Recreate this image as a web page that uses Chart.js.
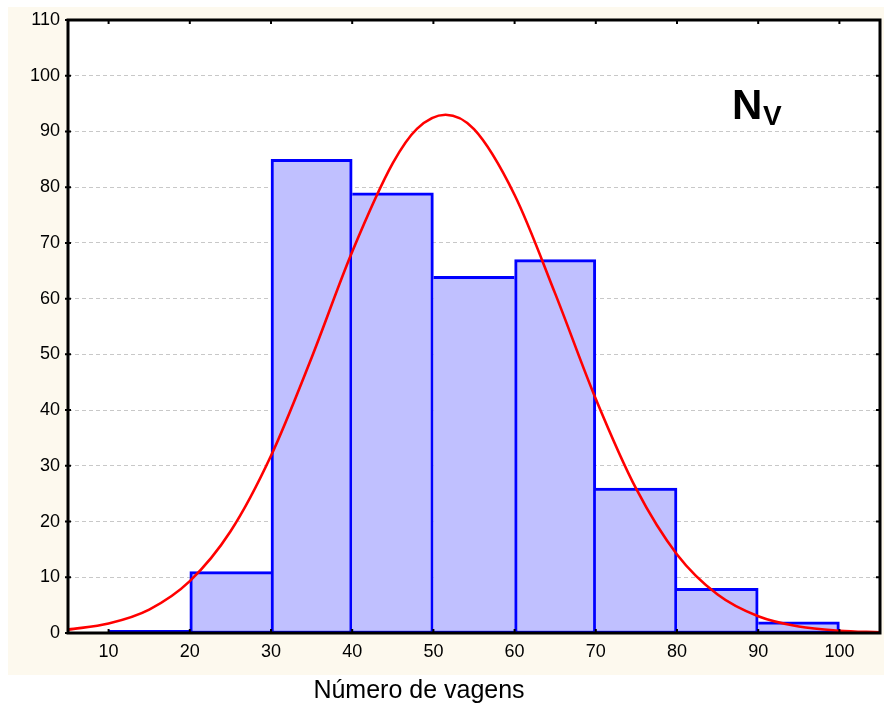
<!DOCTYPE html>
<html>
<head>
<meta charset="utf-8">
<script src="https://cdn.jsdelivr.net/npm/chart.js@4.4.0/dist/chart.umd.min.js"></script>
<style>
  html, body { margin: 0; padding: 0; background: #ffffff; }
  #wrap { width: 884px; height: 708px; }
</style>
</head>
<body>
<div id="wrap"><canvas id="hist"></canvas></div>
<script>
// histogramme : centres des classes et effectifs
const binCenters = [15, 25, 35, 45, 55, 65, 75, 85, 95];
const binCounts  = [0, 11, 85, 79, 64, 67, 26, 8, 2];

// courbe normale
const curveX = [5, 10, 15, 20, 25, 30, 35, 40, 45, 48, 51.5, 55, 60, 65, 70, 75, 80, 85, 90, 95, 100, 105];
const curveY = [0.6, 1.7, 4.2, 9.3, 18.2, 31.8, 49.4, 68.4, 84.3, 90.5, 93, 90.4, 78.6, 60.9, 42, 25.8, 14.1, 6.9, 3.0, 1.15, 0.4, 0.12];

const xTicks = [10, 20, 30, 40, 50, 60, 70, 80, 90, 100];
const yTicks = [0, 10, 20, 30, 40, 50, 60, 70, 80, 90, 100, 110];

const xTitle = "Número de vagens";
const font = "'Liberation Sans', Arial, sans-serif";

// fond crème + zone du graphique blanche
const bgPlugin = {
  id: 'bg',
  beforeDraw(chart) {
    const c = chart.ctx, a = chart.chartArea;
    c.save();
    c.fillStyle = '#fdf9ee';
    c.fillRect(8, 7, 876, 668);
    c.fillStyle = '#ffffff';
    c.fillRect(a.left, a.top, a.right - a.left, a.bottom - a.top);
    c.restore();
  }
};

// cadre, graduations et textes
const framePlugin = {
  id: 'frame',
  afterDatasetsDraw(chart) {
    const c = chart.ctx, a = chart.chartArea;
    const xs = chart.scales.x, ys = chart.scales.y;
    c.save();
    // trait bleu à zéro sous la classe vide
    c.strokeStyle = '#0000ff';
    c.lineWidth = 2;
    c.beginPath();
    c.moveTo(xs.getPixelForValue(10), a.bottom - 2);
    c.lineTo(xs.getPixelForValue(20), a.bottom - 2);
    c.stroke();

    c.strokeStyle = '#000';
    c.lineWidth = 3;
    c.strokeRect(a.left, a.top, a.right - a.left, a.bottom - a.top);
    c.lineWidth = 2;
    xTicks.forEach(v => {
      const px = xs.getPixelForValue(v);
      c.beginPath();
      c.moveTo(px, a.bottom); c.lineTo(px, a.bottom - 4);
      c.moveTo(px, a.top); c.lineTo(px, a.top + 4);
      c.stroke();
    });
    yTicks.forEach(v => {
      const py = ys.getPixelForValue(v);
      c.beginPath();
      c.moveTo(a.left - 3, py); c.lineTo(a.left + 3, py);
      c.moveTo(a.right, py); c.lineTo(a.right - 4, py);
      c.stroke();
    });

    // étiquette N_V
    c.fillStyle = '#000';
    c.textBaseline = 'alphabetic';
    c.textAlign = 'left';
    c.font = 'bold 42px ' + font;
    c.fillText('N', 732, 119);
    c.font = 'bold 28px ' + font;
    c.fillText('V', 763, 125);

    // titre de l'axe x
    c.font = '25px ' + font;
    c.textAlign = 'center';
    c.fillText(xTitle, 419, 698);
    c.restore();
  }
};

// bordures : un seul trait entre deux classes voisines, porté par la plus haute
const last = binCounts.length - 1;
const barBorders = binCounts.map((h, i) => ({
  left: (i === 0 || binCounts[i - 1] <= h) ? 3 : 0,
  right: (i === last || binCounts[i + 1] < h) ? 3 : 0,
  top: 3,
  bottom: 2
}));

new Chart(document.getElementById('hist'), {
  type: 'bar',
  data: {
    datasets: [
      {
        type: 'line',
        data: curveX.map((x, i) => ({ x: x, y: curveY[i] })),
        borderColor: '#ff0000',
        borderWidth: 2.6,
        pointRadius: 0,
        cubicInterpolationMode: 'monotone',
        fill: false,
        order: 0
      },
      {
        type: 'bar',
        data: binCenters.map((x, i) => ({ x: x, y: binCounts[i] })),
        backgroundColor: '#c0c0ff',
        borderColor: '#0000ff',
        borderWidth: barBorders,
        borderSkipped: false,
        barPercentage: 1,
        categoryPercentage: 1,
        order: 1
      }
    ]
  },
  options: {
    responsive: true,
    maintainAspectRatio: false,
    animation: false,
    layout: { padding: { left: 8, right: 4, top: 20, bottom: 34 } },
    plugins: { legend: { display: false }, tooltip: { enabled: false } },
    scales: {
      x: {
        type: 'linear',
        offset: false,
        min: 5,
        max: 105,
        afterBuildTicks: s => { s.ticks = xTicks.map(v => ({ value: v })); },
        afterFit: s => { s.height = 41; },
        grid: { display: false, drawTicks: false },
        border: { display: false },
        ticks: { color: '#000', font: { family: font, size: 18 }, padding: 8, maxRotation: 0 }
      },
      y: {
        min: 0,
        max: 110,
        afterBuildTicks: s => { s.ticks = yTicks.map(v => ({ value: v })); },
        afterFit: s => { s.width = 60; },
        grid: { color: '#c8c8c8', drawTicks: false, tickLength: 0 },
        border: { display: false, dash: [4, 3] },
        ticks: { color: '#000', font: { family: font, size: 18 }, padding: 8 }
      }
    }
  },
  plugins: [bgPlugin, framePlugin]
});
</script>
</body>
</html>
